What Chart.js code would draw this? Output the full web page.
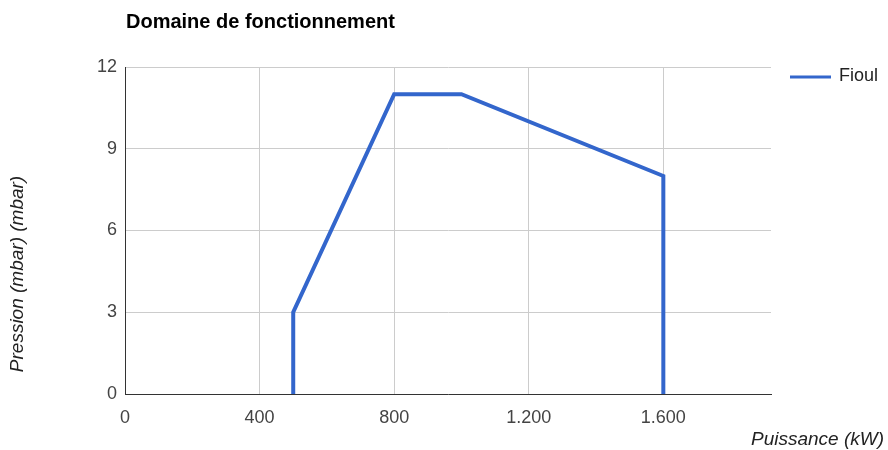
<!DOCTYPE html>
<html>
<head>
<meta charset="utf-8">
<script src="https://cdn.jsdelivr.net/npm/chart.js@4"></script>
<style>
  html, body { margin: 0; padding: 0; background: #fff; }
  #c { display: block; }
</style>
</head>
<body>
<canvas id="c" width="888" height="450"></canvas>
<script>
// données
const puissance = [500, 500, 800, 1000, 1600, 1600];
const pression = [0, 3, 11, 11, 8, 0];
const xTicks = [0, 400, 800, 1200, 1600];
const yTicks = [0, 3, 6, 9, 12];
const serieNom = 'Fioul';
const titre = 'Domaine de fonctionnement';

const FONT = 'Arial, "Liberation Sans", sans-serif';
const BLUE = '#3366cc';

function fmt(v) { return String(v).replace(/\B(?=(\d{3})+(?!\d))/g, '.'); }

// titre, légende et titres des axes dessinés à la main
const decor = {
  id: 'decor',
  afterDraw(chart) {
    const ctx = chart.ctx;
    ctx.save();
    ctx.fillStyle = '#000';
    ctx.font = 'bold 20px ' + FONT;
    ctx.textBaseline = 'middle';
    ctx.textAlign = 'left';
    ctx.fillText(titre, 126, 22);

    ctx.strokeStyle = BLUE; ctx.lineWidth = 3;
    ctx.beginPath(); ctx.moveTo(790, 77); ctx.lineTo(831, 77); ctx.stroke();
    ctx.fillStyle = '#222';
    ctx.font = '18px ' + FONT;
    ctx.fillText(serieNom, 839, 76);

    ctx.font = 'italic 19px ' + FONT;
    ctx.textAlign = 'right';
    ctx.fillText('Puissance (kW)', 884, 440);

    ctx.translate(18, 274);
    ctx.rotate(-Math.PI / 2);
    ctx.textAlign = 'center';
    ctx.fillText('Pression (mbar) (mbar)', 0, 0);
    ctx.restore();
  }
};

new Chart(document.getElementById('c'), {
  type: 'scatter',
  data: {
    datasets: [{
      label: serieNom,
      data: puissance.map((x, i) => ({ x: x, y: pression[i] })),
      showLine: true,
      borderColor: BLUE,
      backgroundColor: BLUE,
      borderWidth: 4,
      pointRadius: 0,
      pointHoverRadius: 0,
      tension: 0
    }]
  },
  options: {
    responsive: false,
    animation: false,
    layout: { padding: { top: 67, right: 117, bottom: 0, left: 0 } },
    plugins: { legend: { display: false }, title: { display: false }, tooltip: { enabled: false } },
    scales: {
      x: {
        type: 'linear', min: 0, max: 1920,
        afterBuildTicks: s => { s.ticks = xTicks.map(v => ({ value: v })); },
        afterFit: s => { s.height = 450 - 394; },
        grid: { color: '#cccccc', lineWidth: 1, drawTicks: false },
        border: { color: '#333333', width: 1 },
        ticks: { padding: 13, color: '#444', font: { family: FONT, size: 18 }, callback: v => fmt(v), maxRotation: 0 }
      },
      y: {
        type: 'linear', min: 0, max: 12,
        afterBuildTicks: s => { s.ticks = yTicks.map(v => ({ value: v })); },
        afterFit: s => { s.width = 125; },
        grid: { color: '#cccccc', lineWidth: 1, drawTicks: false },
        border: { color: '#333333', width: 1 },
        ticks: { padding: 8, color: '#444', font: { family: FONT, size: 18 } }
      }
    }
  },
  plugins: [decor]
});
</script>
</body>
</html>
